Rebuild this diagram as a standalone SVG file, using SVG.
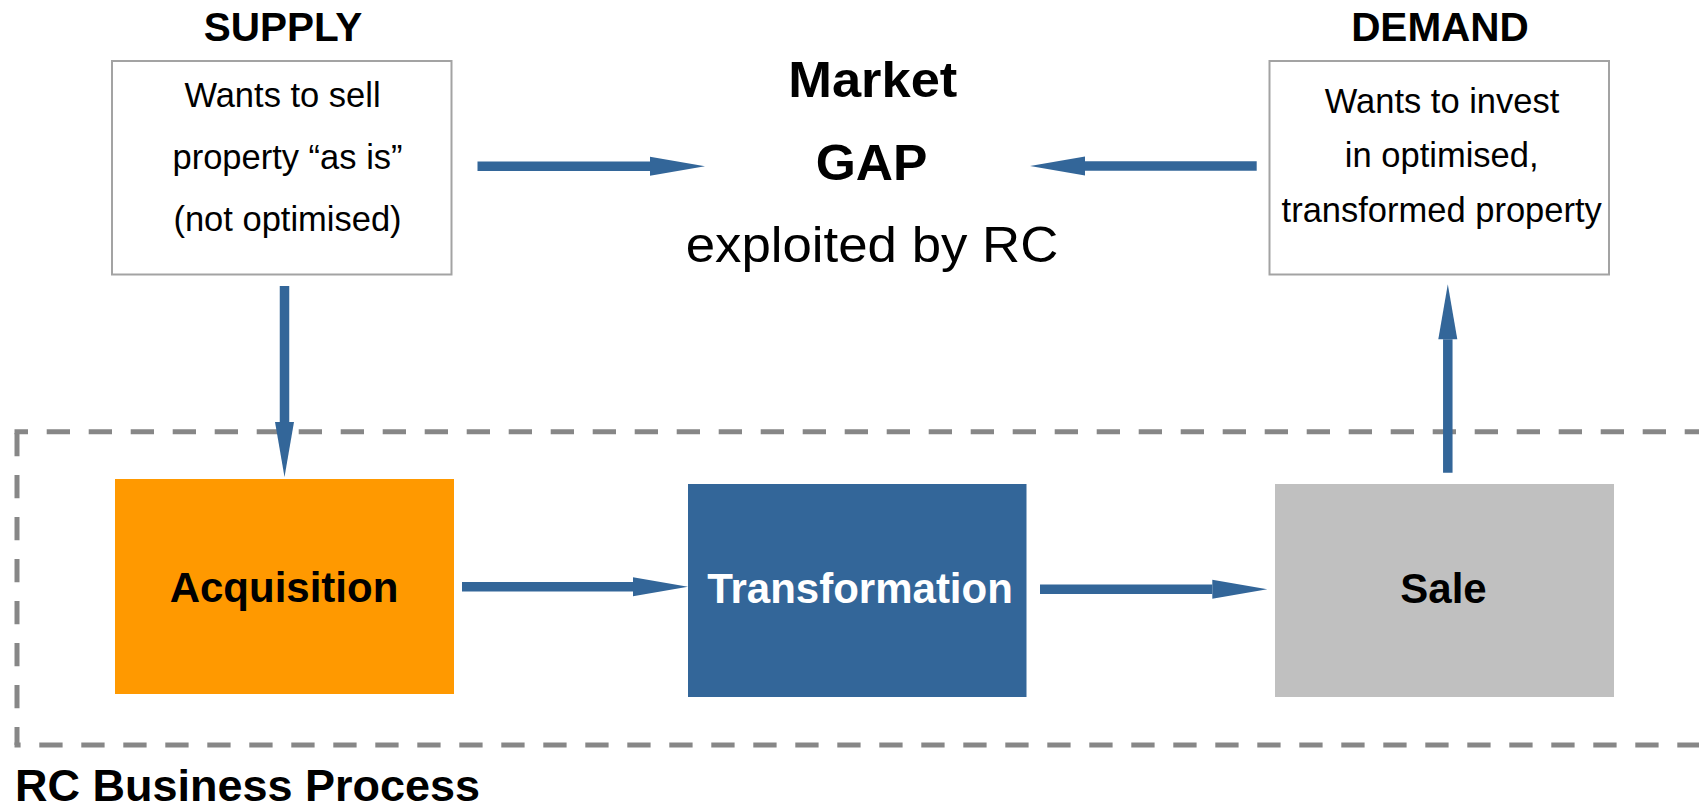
<svg xmlns="http://www.w3.org/2000/svg" width="1699" height="808" viewBox="0 0 1699 808">
  <style>
    text { font-family: "Liberation Sans", Arial, sans-serif; fill: #000; }
    .title { font-size: 40.5px; font-weight: bold; text-anchor: middle; }
    .note { font-size: 34.5px; text-anchor: middle; }
    .gap-b { font-size: 50px; font-weight: bold; text-anchor: middle; }
    .gap-r { font-size: 50px; text-anchor: middle; }
    .step { font-size: 42px; font-weight: bold; text-anchor: middle; }
    .frame { fill: #fff; stroke: #a3a3a3; stroke-width: 2; }
    .bound { fill: none; stroke: #878787; stroke-width: 5; }
    .flow { fill: none; stroke: #336699; stroke-width: 9.5; marker-end: url(#head); }
  </style>
  <defs>
    <marker id="head" markerUnits="userSpaceOnUse" viewBox="0 -10 56 20" markerWidth="56" markerHeight="20" refX="0" refY="0" orient="auto" overflow="visible">
      <path d="M0,-9.5 L55,0 L0,9.5 Z" fill="#336699"/>
    </marker>
  </defs>

  <rect width="1699" height="808" fill="#fff"/>

  <!-- process boundary (right side runs past the edge) -->
  <g id="process-boundary">
    <line class="bound" x1="14.5" y1="431.7" x2="1720" y2="431.7" stroke-dasharray="23.3 18.7" stroke-dashoffset="9.8"/>
    <line class="bound" x1="17" y1="431.7" x2="17" y2="745" stroke-dasharray="23.3 18.7" stroke-dashoffset="40.7"/>
    <line class="bound" x1="14.5" y1="745" x2="1720" y2="745" stroke-dasharray="23.3 18.7" stroke-dashoffset="17.2"/>
    <text x="15" y="800.5" font-size="44" font-weight="bold" textLength="465" lengthAdjust="spacingAndGlyphs">RC Business Process</text>
  </g>

  <!-- supply side -->
  <g id="supply">
    <text class="title" x="283" y="40.7">SUPPLY</text>
    <rect class="frame" x="112" y="61" width="339.5" height="213.5"/>
    <text class="note" x="282.5" y="107.3">Wants to sell</text>
    <text class="note" x="287.5" y="168.5">property “as is”</text>
    <text class="note" x="287.5" y="231">(not optimised)</text>
  </g>

  <!-- demand side -->
  <g id="demand">
    <text class="title" x="1440" y="40.5">DEMAND</text>
    <rect class="frame" x="1269.5" y="61" width="339.5" height="213.5"/>
    <text class="note" x="1442" y="113.3">Wants to invest</text>
    <text class="note" x="1441.7" y="166.7">in optimised,</text>
    <text class="note" x="1441.7" y="221.7">transformed property</text>
  </g>

  <!-- the gap in between -->
  <g id="market-gap">
    <text class="gap-b" x="872.8" y="97.3" textLength="169" lengthAdjust="spacingAndGlyphs">Market</text>
    <text class="gap-b" x="871.5" y="180" textLength="111.7" lengthAdjust="spacingAndGlyphs">GAP</text>
    <text class="gap-r" x="872" y="261.7" textLength="372.7" lengthAdjust="spacingAndGlyphs">exploited by RC</text>
  </g>

  <!-- process steps -->
  <g id="acquisition">
    <rect x="115" y="479" width="339" height="215" fill="#ff9900"/>
    <text class="step" x="284" y="601.7">Acquisition</text>
  </g>
  <g id="transformation">
    <rect x="688" y="484" width="338.5" height="213" fill="#336699"/>
    <text class="step" x="860" y="602.7" style="fill:#fff">Transformation</text>
  </g>
  <g id="sale">
    <rect x="1275" y="484" width="339" height="213" fill="#c0c0c0"/>
    <text class="step" x="1443.5" y="602.7">Sale</text>
  </g>

  <!-- connectors: each line stops at the arrowhead base -->
  <g id="connectors">
    <line class="flow" x1="477.5" y1="166.2" x2="650" y2="166.2"/>
    <line class="flow" x1="1256.7" y1="166" x2="1085" y2="166"/>
    <line class="flow" x1="284.5" y1="286" x2="284.5" y2="422"/>
    <line class="flow" x1="462" y1="586.8" x2="633" y2="586.8"/>
    <line class="flow" x1="1040" y1="589.2" x2="1212.3" y2="589.2"/>
    <line class="flow" x1="1447.8" y1="472.7" x2="1447.8" y2="339.3"/>
  </g>
</svg>
